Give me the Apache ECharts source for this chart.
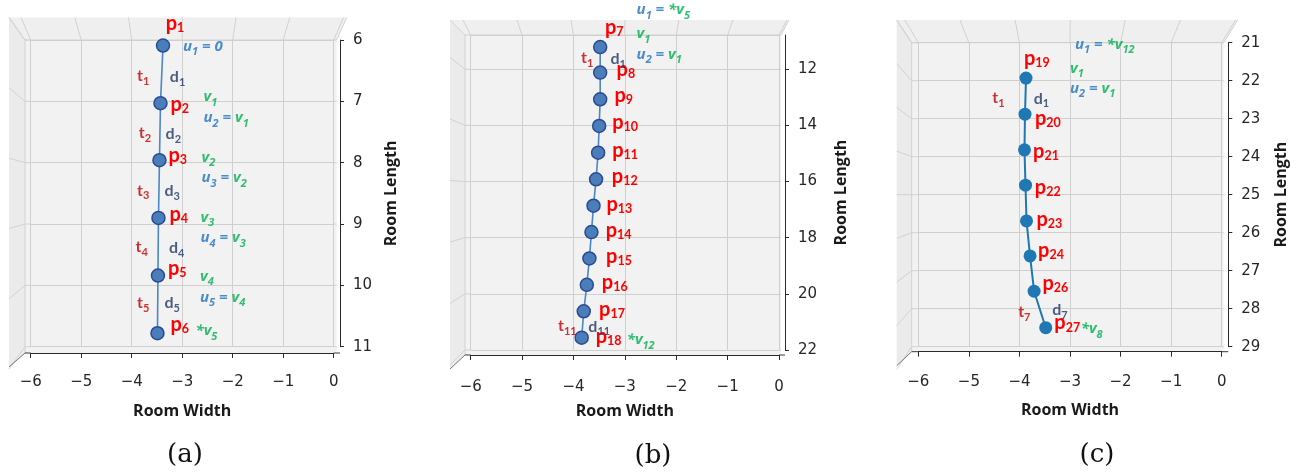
<!DOCTYPE html>
<html><head><meta charset="utf-8">
<script src="https://cdn.jsdelivr.net/npm/echarts@6/dist/echarts.min.js"></script>
<style>html,body{margin:0;padding:0;background:#fff}#c{width:1297px;height:473px}</style>
</head><body><div id="c"></div>
<script>
// ---------------- data ----------------
const xTicks = [-6, -5, -4, -3, -2, -1, 0];
const yTicksA = [6, 7, 8, 9, 10, 11];
const yTicksB = [12, 14, 16, 18, 20, 22];
const yTicksC = [21, 22, 23, 24, 25, 26, 27, 28, 29];
const yMinB = 10.78;

const aX = [-3.38, -3.43, -3.45, -3.47, -3.48, -3.49];
const aY = [6.09, 7.03, 7.96, 8.90, 9.84, 10.78];
const aIds = [1, 2, 3, 4, 5, 6];

const bX = [-3.48, -3.48, -3.48, -3.50, -3.52, -3.56, -3.61, -3.65, -3.69, -3.74, -3.80, -3.84];
const bY = [11.21, 12.12, 13.07, 14.02, 14.97, 15.92, 16.86, 17.80, 18.74, 19.68, 20.62, 21.56];
const bIds = [7, 8, 9, 10, 11, 12, 13, 14, 15, 16, 17, 18];

const cX = [-3.87, -3.89, -3.90, -3.88, -3.86, -3.79, -3.71, -3.48];
const cY = [21.93, 22.88, 23.82, 24.75, 25.69, 26.61, 27.54, 28.50];
const cIds = [19, 20, 21, 22, 23, 24, 26, 27];

// ---------------- text builders ----------------
const P = n => `{p|p}{ps|${n}}`;
const T = n => `{t|t}{ts|${n}}`;
const D = n => `{d|d}{ds|${n}}`;
const V = n => `{v|v}{vs|${n}}`;
const UV = (u, v) => `{u|u}{us|${u}}{u| = }{v|v}{vs|${v}}`;
const USV = (u, v) => `{u|u}{us|${u}}{u| = }{v|*v}{vs|${v}}`;
const SV = n => `{v|*v}{vs|${n}}`;
const U0 = n => `{u|u}{us|${n}}{u| = 0}`;

// ---------------- layout (label offsets in px) ----------------
const pLayA = [[12,-22,'center'],[10,1,'left'],[9,-5,'left'],[11,-3,'left'],[10,-7,'left'],[13,-9,'left']];
const annA = [
  {pt:0, text:U0(1), dx:20, dy:1},
  {pt:1, text:V(1), dx:43, dy:-6}, {pt:1, text:UV(2,1), dx:43, dy:15},
  {pt:2, text:V(2), dx:42, dy:-2.5}, {pt:2, text:UV(3,2), dx:42, dy:18},
  {pt:3, text:V(3), dx:42, dy:-0.5}, {pt:3, text:UV(4,3), dx:42, dy:20},
  {pt:4, text:V(4), dx:42, dy:0.7}, {pt:4, text:UV(5,4), dx:42, dy:21.7},
  {pt:5, text:SV(5), dx:38, dy:-2},
  {seg:0, text:T(1), dx:-18.6, dy:1.7, c:1}, {seg:0, text:D(1), dx:15.8, dy:2.2, c:1},
  {seg:1, text:T(2), dx:-15, dy:1.5, c:1}, {seg:1, text:D(2), dx:13.3, dy:2, c:1},
  {seg:2, text:T(3), dx:-15.7, dy:1.3, c:1}, {seg:2, text:D(3), dx:13.3, dy:1.8, c:1},
  {seg:3, text:T(4), dx:-16.6, dy:0, c:1}, {seg:3, text:D(4), dx:18.4, dy:0.8, c:1},
  {seg:4, text:T(5), dx:-14.5, dy:-1.7, c:1}, {seg:4, text:D(5), dx:14.5, dy:-1.7, c:1}
];
const pLayB = [[4.7,-19.3,'left'],[16.4,-3.5,'left'],[14.3,-3.5,'left'],[13,-3.5,'left'],[14,-2,'left'],[15.7,-2.6,'left'],
  [13,-1.5,'left'],[14.3,-1.5,'left'],[16.7,-2,'left'],[15,-2.2,'left'],[15.3,-2.1,'left'],[14,-1.4,'left']];
const annB = [
  {pt:0, text:USV(1,5), dx:36.4, dy:-37},
  {pt:0, text:V(1), dx:36.4, dy:-13.2},
  {pt:0, text:UV(2,1), dx:36.4, dy:7.2},
  {seg:0, text:T(1), dx:-13, dy:-1.8, c:1}, {seg:0, text:D(1), dx:18, dy:-0.6, c:1},
  {seg:10, text:T(11), dx:-15.4, dy:1.5, c:1}, {seg:10, text:D(11), dx:16.5, dy:2, c:1},
  {pt:11, text:SV(12), dx:45, dy:2.3}
];
const pLayC = [[-2,-19.7,'left'],[10,4.7,'left'],[8.6,1.7,'left'],[9.3,2.2,'left'],[10,-1.2,'left'],[8,-5.2,'left'],[8.3,-8,'left'],[8.6,-4.7,'left']];
const annC = [
  {pt:0, text:USV(1,12), dx:49, dy:-33.8},
  {pt:0, text:V(1), dx:44, dy:-9.7},
  {pt:0, text:UV(2,1), dx:44, dy:10.3},
  {seg:0, text:T(1), dx:-27, dy:1.5, c:1}, {seg:0, text:D(1), dx:16, dy:2.3, c:1},
  {seg:6, text:T(7), dx:-15.6, dy:2.7, c:1}, {seg:6, text:D(7), dx:20.1, dy:0.2, c:1},
  {pt:7, text:SV(8), dx:35, dy:1.5}
];

// ---------------- styles ----------------
const F = 'Lato, "Noto Sans", sans-serif';
const FI = '"Noto Sans", "Liberation Sans", sans-serif';
const sub = (color, italic) => ({color, fontFamily: italic ? FI : F, fontWeight:'bold', fontStyle: italic?'italic':'normal', fontSize:11, lineHeight:10, verticalAlign:'bottom'});
const main = (color, size, italic) => ({color, fontFamily: italic ? FI : F, fontWeight:'bold', fontStyle: italic?'italic':'normal', fontSize:size, lineHeight:22});
const rich = {
  p: main('#ff0000', 20, false), ps: Object.assign(sub('#ff0000', false), {fontSize:12.5, lineHeight:12}),
  t: main('#c00000', 16, false), ts: sub('#c00000', false),
  d: main('#203864', 16, false), ds: sub('#203864', false),
  u: main('#1f72c2', 15, true), us: sub('#1f72c2', true),
  v: main('#00b050', 15, true), vs: sub('#00b050', true)
};

const grids = [
  {left:30.7, top:40, width:303, height:306.7},
  {left:470.7, top:35, width:308.3, height:315},
  {left:918.3, top:42.7, width:303.4, height:304}
];
const geo = [
  {padL:5.7, padR:3, topH:22.5, leftW:16, rightTop:10, xOff:6.3, yOff:6.3, botDiag:14, nameGapY:43, nameGapX:50, lblX:22},
  {padL:5.7, padR:2, topH:15, leftW:15, rightTop:8, xOff:5, yOff:6, botDiag:14, nameGapY:48, nameGapX:48, lblX:25},
  {padL:6.6, padR:2, topH:22.7, leftW:15, rightTop:14, xOff:5, yOff:6.6, botDiag:14, nameGapY:45, nameGapX:51, lblX:23}
];
const yCfg = [
  {min:yTicksA[0], max:yTicksA[yTicksA.length-1], interval:1},
  {min:yMinB, max:yTicksB[yTicksB.length-1], splitNumber:6},
  {min:yTicksC[0], max:yTicksC[yTicksC.length-1], interval:1}
];

const minus = v => v < 0 ? '\u2212' + (-v) : String(v);
const axisCol = '#2a2a2a';
const gridCol = '#cfcfcf';

const xAxes = grids.map((g, i) => ({
  gridIndex:i, type:'value', min:xTicks[0], max:xTicks[xTicks.length-1], interval:1,
  position:'bottom', offset:geo[i].xOff,
  axisLine:{show:true, onZero:false, lineStyle:{color:axisCol, width:1}},
  axisTick:{show:true, length:5, lineStyle:{color:axisCol}},
  axisLabel:{color:'#262626', fontSize:15, fontFamily:'DejaVu Sans', margin:geo[i].lblX, formatter:minus},
  splitLine:{show:true, lineStyle:{color:gridCol, width:1}},
  name:'Room Width', nameLocation:'middle', nameGap:geo[i].nameGapX,
  nameTextStyle:{fontFamily:'"Open Sans", sans-serif', fontWeight:'bold', fontSize:16, color:'#1a1a1a', verticalAlign:'top'}
}));
const yAxes = grids.map((g, i) => Object.assign({
  gridIndex:i, type:'value', inverse:true, position:'right', offset:geo[i].yOff,
  axisLine:{show:true, onZero:false, lineStyle:{color:axisCol, width:1}},
  axisTick:{show:true, length:4, lineStyle:{color:axisCol}},
  axisLabel:{color:'#262626', fontSize:15, fontFamily:'DejaVu Sans', margin:13, showMinLabel: i !== 1,
    formatter: v => (Math.abs(v - Math.round(v)) < 1e-6 ? String(Math.round(v)) : '')},
  splitLine:{show:true, lineStyle:{color:gridCol, width:1}},
  name:'Room Length', nameLocation:'middle', nameRotate:90, nameGap:geo[i].nameGapY,
  nameTextStyle:{fontFamily:'"Open Sans", sans-serif', fontWeight:'bold', fontSize:16, color:'#1a1a1a'}
}, yCfg[i]));

function pointSeries(gi, xs, ys, ids, lay, style) {
  return {
    type:'line', xAxisIndex:gi, yAxisIndex:gi, z:3,
    symbol:'circle', symbolSize:style.size, showSymbol:true, clip:false,
    itemStyle:style.item, lineStyle:style.line,
    data: xs.map((x, k) => ({
      value:[x, ys[k]],
      label:{show:true, position:'inside', formatter:P(ids[k]), align:lay[k][2], verticalAlign:'middle',
        offset:[lay[k][0], lay[k][1]], rich}
    })),
    silent:true
  };
}
function annSeries(gi, xs, ys, ann) {
  return {
    type:'scatter', xAxisIndex:gi, yAxisIndex:gi, z:4, symbol:'circle', symbolSize:1, clip:false,
    itemStyle:{color:'rgba(0,0,0,0)'}, silent:true,
    data: ann.map(a => {
      const x = a.seg !== undefined ? (xs[a.seg] + xs[a.seg+1]) / 2 : xs[a.pt];
      const y = a.seg !== undefined ? (ys[a.seg] + ys[a.seg+1]) / 2 : ys[a.pt];
      return {value:[x, y], label:{show:true, position:'inside', formatter:a.text, align:a.c ? 'center' : 'left',
        verticalAlign:'middle', offset:[a.dx, a.dy], rich}};
    })
  };
}
const styAB = {size:13, item:{color:'#4a7ebb', borderColor:'#2b4a94', borderWidth:1.5}, line:{color:'#4a86c8', width:1.6}};
const styC = {size:13, item:{color:'#1f77b4', borderWidth:0}, line:{color:'#1f77b4', width:2}};

const chart = echarts.init(document.getElementById('c'), null, {renderer:'canvas'});
chart.setOption({
  animation:false,
  backgroundColor:'#ffffff',
  grid: grids.map(g => Object.assign({containLabel:false}, g)),
  xAxis: xAxes, yAxis: yAxes,
  series: [
    pointSeries(0, aX, aY, aIds, pLayA, styAB), annSeries(0, aX, aY, annA),
    pointSeries(1, bX, bY, bIds, pLayB, styAB), annSeries(1, bX, bY, annB),
    pointSeries(2, cX, cY, cIds, pLayC, styC), annSeries(2, cX, cY, annC)
  ]
});

// --------- 3D-box decoration computed from the axes ---------
const yTicksAll = [yTicksA, yTicksB, yTicksC];
const yRanges = [[yCfg[0].min, yCfg[0].max], [yCfg[1].min, yCfg[1].max], [yCfg[2].min, yCfg[2].max]];
const graphics = [];
const wallLine = {stroke:'#d2d2d2', lineWidth:1, fill:null};
const edgeLine = {stroke:'#3a3a3a', lineWidth:1, fill:null};
for (let gi = 0; gi < 3; gi++) {
  const g = geo[gi];
  const px = (x, y) => chart.convertToPixel({gridIndex:gi}, [x, y]);
  const [L, Tp] = px(xTicks[0], yRanges[gi][0]);
  const [R, B] = px(xTicks[xTicks.length-1], yRanges[gi][1]);
  const FL = L - g.padL, FR = R + g.padR, OL = FL - g.leftW, OT = Tp - g.topH, OR = FR + g.rightTop;
  const BB = B + g.xOff, OB = BB + g.botDiag;
  graphics.push({type:'polygon', z:-5, silent:true, shape:{points:[[FL,Tp],[FR,Tp],[FR,BB],[FL,BB]]}, style:{fill:'#f2f2f2'}});
  graphics.push({type:'polygon', z:-5, silent:true, shape:{points:[[FL,Tp],[FR,Tp],[OR,OT],[OL,OT]]}, style:{fill:'#efefef'}});
  graphics.push({type:'polygon', z:-5, silent:true, shape:{points:[[FL,Tp],[OL,OT],[OL,OB],[FL,BB]]}, style:{fill:'#ebebeb'}});
  const cx = (FL + FR) / 2, k = (OR - cx) / (FR - cx);
  xTicks.forEach(t => {
    const [x] = px(t, yRanges[gi][0]);
    graphics.push({type:'line', z:-4, silent:true, shape:{x1:x, y1:Tp, x2:cx + (x - cx) * k, y2:OT}, style:wallLine});
  });
  graphics.push({type:'line', z:-4, silent:true, shape:{x1:FL, y1:Tp, x2:OL, y2:OT}, style:wallLine});
  graphics.push({type:'line', z:-4, silent:true, shape:{x1:FR, y1:Tp, x2:OR, y2:OT}, style:wallLine});
  graphics.push({type:'line', z:-4, silent:true, shape:{x1:FL, y1:Tp, x2:FR, y2:Tp}, style:wallLine});
  graphics.push({type:'line', z:-4, silent:true, shape:{x1:FL, y1:Tp, x2:FL, y2:BB}, style:wallLine});
  const cy = (Tp + B) / 2, k2 = (cy - OT) / (cy - Tp);
  yTicksAll[gi].forEach(t => {
    const [, y] = px(xTicks[0], t);
    graphics.push({type:'polyline', z:-4, silent:true, shape:{points:[[L,y],[FL,y],[OL, cy + (y - cy) * k2]]}, style:wallLine});
    graphics.push({type:'line', z:-4, silent:true, shape:{x1:R, y1:y, x2:FR, y2:y}, style:wallLine});
  });
  graphics.push({type:'line', z:1, silent:true, shape:{x1:FL, y1:BB, x2:L, y2:BB}, style:edgeLine});
  graphics.push({type:'line', z:1, silent:true, shape:{x1:R, y1:BB, x2:R + g.yOff, y2:BB}, style:edgeLine});
  graphics.push({type:'line', z:1, silent:true, shape:{x1:FL, y1:BB, x2:OL, y2:OB}, style:{stroke:'#777', lineWidth:1}});
}
const captions = [['(a)', 185, 455], ['(b)', 653, 456], ['(c)', 1097, 455]];
captions.forEach(c => graphics.push({type:'text', x:c[1], y:c[2], silent:true,
  style:{text:c[0], fontFamily:'"DejaVu Serif", serif', fontSize:26, fill:'#111', align:'center', verticalAlign:'middle'}}));
chart.setOption({graphic: graphics});
</script>
</body></html>
